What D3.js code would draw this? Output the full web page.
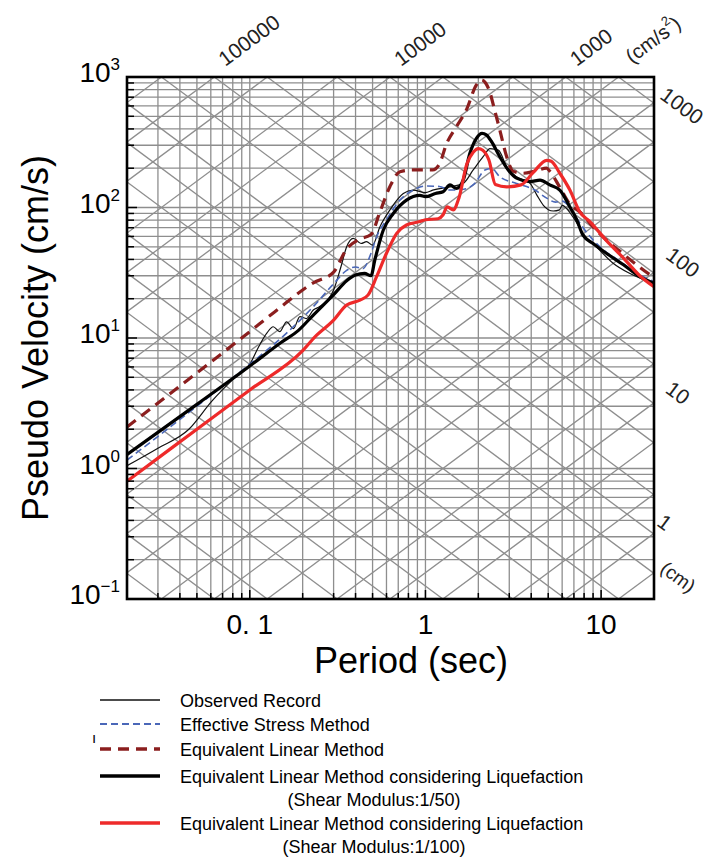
<!DOCTYPE html>
<html>
<head>
<meta charset="utf-8">
<script src="https://cdn.jsdelivr.net/npm/d3@7"></script>
<style>
  body { margin: 0; background: #fff; }
  svg { font-family: Arial, "Liberation Sans", Helvetica, sans-serif; }
</style>
</head>
<body>
<svg id="chart" width="710" height="861"></svg>
<script>
// period (sec), pseudo velocity (cm/s)
var observed = [[0.02,1.05],[0.03,1.43],[0.045,2.0],[0.061,3.3],[0.08,4.8],[0.1,6.3],[0.112,8.5],[0.125,10.9],[0.136,12.2],[0.148,11.2],[0.162,13.3],[0.177,11.8],[0.193,14.6],[0.21,14.1],[0.23,16.4],[0.25,17.4],[0.30,23.3],[0.33,35],[0.356,50],[0.388,58],[0.43,53],[0.462,54.7],[0.50,51.5],[0.55,71],[0.628,96],[0.748,128],[0.85,136],[1.0,130],[1.1,136],[1.38,144],[1.64,153],[1.87,194],[2.13,245],[2.33,283],[2.6,275],[2.9,206],[3.3,172],[3.94,153],[4.3,125],[4.69,104],[5.34,94],[5.8,96],[6.0,104],[6.9,85],[7.9,63],[9.4,50],[11.7,37.4],[14.5,31.3],[20,26.2]];
var effective = [[0.02,1.16],[0.05,3.0],[0.1,6.3],[0.162,10.9],[0.23,17.4],[0.30,26],[0.356,33],[0.40,35],[0.44,34],[0.49,44.6],[0.527,59.6],[0.6,80.6],[0.716,114],[0.853,136],[1.0,146],[1.2,145],[1.38,136],[1.65,138],[1.91,153],[2.18,194],[2.38,199],[2.65,172],[3.3,153],[4.2,136],[4.9,118],[5.5,110],[6.0,112],[6.5,104],[7.2,84],[8.3,64],[10,49],[12.5,39.5],[16.6,30.4],[20,27]];
var eqLinear = [[0.02,2.08],[0.1,11.2],[0.139,15.9],[0.23,26.5],[0.30,32],[0.356,48],[0.42,57],[0.49,62],[0.55,92],[0.628,145],[0.716,188],[0.85,194],[1.1,194],[1.2,215],[1.32,309],[1.5,416],[1.71,560],[1.95,870],[2.09,950],[2.2,900],[2.33,760],[2.45,590],[2.65,393],[2.9,245],[3.15,190],[3.6,183],[4.2,190],[4.9,200],[5.1,190],[5.8,144],[6.6,107],[7.6,92],[9.0,71],[10.7,56.4],[12.7,46.6],[15.5,37.4],[18.5,31.3],[20,29.5]];
var eqLiq50 = [[0.02,1.28],[0.05,3.1],[0.1,6.1],[0.15,9.2],[0.19,11.5],[0.23,15],[0.30,21.5],[0.356,27.5],[0.40,30.4],[0.45,31.3],[0.49,30],[0.515,39.6],[0.575,67],[0.656,90],[0.78,114],[0.93,124],[1.0,121],[1.14,128],[1.26,132],[1.38,149],[1.5,140],[1.64,162],[1.79,260],[1.95,339],[2.1,370],[2.22,360],[2.38,319],[2.65,245],[2.96,194],[3.3,168],[3.94,158],[4.49,162],[5.1,149],[5.82,136],[6.64,101],[7.25,81],[7.9,61],[9.0,53],[10.7,44.6],[13.4,36.4],[16.6,29.5],[20,26.2]];
var eqLiq100 = [[0.02,0.8],[0.05,2.0],[0.1,4.0],[0.2,8.0],[0.235,10.2],[0.3,13.7],[0.356,17.9],[0.424,19.5],[0.472,21.4],[0.527,29.5],[0.6,44.6],[0.686,63.4],[0.78,73.4],[0.93,78],[1.0,80.6],[1.18,82],[1.26,88],[1.33,101],[1.44,96],[1.55,118],[1.72,215],[1.87,265],[2.0,283],[2.12,275],[2.3,230],[2.5,150],[2.9,144],[3.5,149],[4.1,185],[4.9,230],[5.2,226],[5.82,183],[6.64,136],[7.57,92],[8.63,78],[10.7,56],[13.4,41],[16.6,30],[20,24.7]];

var periodTicks = [0.1, 1, 10];
var periodLabels = ["0. 1", "1", "10"];
var velocityTicks = [0.1, 1, 10, 100, 1000];
var velocityExp = ["\u22121", "0", "1", "2", "3"];
var accelLabels = [100000, 10000, 1000];     // cm/s2
var dispLabels = [1000, 100, 10, 1];         // cm
var diagSteps = [1, 2, 5];

var svg = d3.select("#chart");
var pLeft = 127, pTop = 77, pRight = 654, pBottom = 599;
var x = d3.scaleLog().domain([0.02, 20]).range([pLeft, pRight]);
var y = d3.scaleLog().domain([0.1, 1000]).range([pBottom, pTop]);
var angle = Math.atan((y(1) - y(10)) / (x(10) - x(1))) * 180 / Math.PI;

svg.append("rect").attr("width", 710).attr("height", 861).attr("fill", "#fff");
svg.append("clipPath").attr("id", "plot")
  .append("rect").attr("x", pLeft).attr("y", pTop).attr("width", pRight - pLeft).attr("height", pBottom - pTop);

var grid = svg.append("g").attr("clip-path", "url(#plot)")
  .attr("stroke", "#8e8e8e").attr("stroke-width", 1.3).attr("fill", "none");

function minors(lo, hi) {
  var out = [];
  for (var k = Math.floor(Math.log10(lo)); k <= Math.ceil(Math.log10(hi)); k++)
    for (var m = 1; m <= 9; m++) {
      var v = m * Math.pow(10, k);
      if (v >= lo * 0.999 && v <= hi * 1.001) out.push(v);
    }
  return out;
}
var xMinor = minors(0.02, 20), yMinor = minors(0.1, 1000);

grid.selectAll(".vx").data(xMinor).join("line")
  .attr("x1", d => x(d)).attr("x2", d => x(d)).attr("y1", pTop).attr("y2", pBottom);
grid.selectAll(".hy").data(yMinor).join("line")
  .attr("y1", d => y(d)).attr("y2", d => y(d)).attr("x1", pLeft).attr("x2", pRight);

// tripartite diagonals: acceleration (V = A T / 2pi) and displacement (V = 2pi D / T)
var accel = [], disp = [];
for (var k = -3; k <= 8; k++) diagSteps.forEach(m => accel.push(m * Math.pow(10, k)));
for (var k = -5; k <= 5; k++) diagSteps.forEach(m => disp.push(m * Math.pow(10, k)));
var T0 = 0.02, T1 = 20;
grid.selectAll(".ac").data(accel).join("line")
  .attr("x1", x(T0)).attr("x2", x(T1))
  .attr("y1", d => y(d * T0 / (2 * Math.PI))).attr("y2", d => y(d * T1 / (2 * Math.PI)));
grid.selectAll(".dp").data(disp).join("line")
  .attr("x1", x(T0)).attr("x2", x(T1))
  .attr("y1", d => y(2 * Math.PI * d / T0)).attr("y2", d => y(2 * Math.PI * d / T1));

// curves
var line = d3.line().x(d => x(d[0])).y(d => y(d[1])).curve(d3.curveMonotoneX);
var series = [
  { data: observed, color: "#111", width: 1.2, dash: null },
  { data: effective, color: "#4a67b8", width: 1.6, dash: "7,4" },
  { data: eqLinear, color: "#8b1e1e", width: 3.2, dash: "11,7" },
  { data: eqLiq50, color: "#000", width: 3.2, dash: null },
  { data: eqLiq100, color: "#ee2a2a", width: 3.2, dash: null }
];
var curves = svg.append("g").attr("clip-path", "url(#plot)");
series.forEach(s => {
  curves.append("path").datum(s.data).attr("d", line)
    .attr("fill", "none").attr("stroke", s.color).attr("stroke-width", s.width)
    .attr("stroke-dasharray", s.dash).attr("stroke-linejoin", "round");
});

// frame and ticks
svg.append("rect").attr("x", pLeft).attr("y", pTop).attr("width", pRight - pLeft).attr("height", pBottom - pTop)
  .attr("fill", "none").attr("stroke", "#000").attr("stroke-width", 2.6);
var isDecade = v => Math.abs(Math.log10(v) - Math.round(Math.log10(v))) < 1e-6;
svg.append("g").selectAll("line").data(yMinor).join("line")
  .attr("x1", pLeft).attr("x2", d => pLeft + (isDecade(d) ? 10 : 7))
  .attr("y1", d => y(d)).attr("y2", d => y(d)).attr("stroke", "#000").attr("stroke-width", 1.5);
svg.append("g").selectAll("line").data(xMinor).join("line")
  .attr("y1", pBottom).attr("y2", d => pBottom - (isDecade(d) ? 9 : 6))
  .attr("x1", d => x(d)).attr("x2", d => x(d)).attr("stroke", "#000").attr("stroke-width", 1.5);

// tick labels
svg.append("g").selectAll("text").data(periodTicks).join("text")
  .attr("x", d => x(d)).attr("y", 634).attr("text-anchor", "middle")
  .attr("font-size", 28).text((d, i) => periodLabels[i]);
var yl = svg.append("g").selectAll("text").data(velocityTicks).join("text")
  .attr("x", 120).attr("y", d => y(d) + 5).attr("text-anchor", "end").attr("font-size", 28);
yl.append("tspan").text("10");
yl.append("tspan").attr("font-size", 17).attr("dy", -12).text((d, i) => velocityExp[i]);

// axis titles
svg.append("text").attr("transform", "translate(48," + ((pTop + pBottom) / 2) + ") rotate(-90)")
  .attr("text-anchor", "middle").attr("font-size", 36).text("Pseudo Velocity (cm/s)");
svg.append("text").attr("x", 411).attr("y", 673).attr("text-anchor", "middle")
  .attr("font-size", 36).text("Period (sec)");

// acceleration labels above the top edge
accelLabels.forEach(a => {
  var x0 = x(2 * Math.PI * 1000 / a);
  svg.append("text").attr("transform", "translate(" + (x0 + 11) + ",67) rotate(" + (-angle) + ")")
    .attr("font-size", 21).attr("fill", "#222").text(a);
});
var cms2 = svg.append("text").attr("transform", "translate(632,64) rotate(" + (-angle) + ")")
  .attr("font-size", 20).attr("fill", "#222");
cms2.append("tspan").text("(cm/s");
cms2.append("tspan").attr("font-size", 13).attr("dy", -10).text("2");
cms2.append("tspan").attr("dy", 10).text(")");

// displacement labels right of the frame
var dispOffset = [[28, -37], [29, -11], [24, -11], [11, -12]];
dispLabels.forEach((dcm, i) => {
  var yd = y(2 * Math.PI * dcm / 20);
  svg.append("text")
    .attr("transform", "translate(" + (pRight + dispOffset[i][0]) + "," + (yd + dispOffset[i][1]) + ") rotate(" + angle + ")")
    .attr("text-anchor", "middle").attr("dominant-baseline", "central")
    .attr("font-size", 21).attr("fill", "#222").text(dcm);
});
svg.append("text").attr("transform", "translate(678,577) rotate(" + angle + ")")
  .attr("text-anchor", "middle").attr("dominant-baseline", "central")
  .attr("font-size", 19).attr("fill", "#222").text("(cm)");

// legend
var legend = [
  { s: series[0], ly: 700, text: ["Observed Record"] },
  { s: series[1], ly: 724, text: ["Effective Stress Method"] },
  { s: series[2], ly: 749, text: ["Equivalent Linear Method"] },
  { s: series[3], ly: 776, text: ["Equivalent Linear Method considering Liquefaction", "(Shear Modulus:1/50)"] },
  { s: series[4], ly: 823, text: ["Equivalent Linear Method considering Liquefaction", "(Shear Modulus:1/100)"] }
];
var lg = svg.append("g");
legend.forEach(l => {
  lg.append("line").attr("x1", 100).attr("x2", 160).attr("y1", l.ly).attr("y2", l.ly)
    .attr("stroke", l.s.color).attr("stroke-width", l.s.width + 0.4).attr("stroke-dasharray", l.s.dash);
  lg.append("text").attr("x", 180).attr("y", l.ly + 7).attr("font-size", 18).text(l.text[0]);
  if (l.text[1]) lg.append("text").attr("x", 374).attr("y", l.ly + 30).attr("text-anchor", "middle")
    .attr("font-size", 18).text(l.text[1]);
});
svg.append("text").attr("x", 92).attr("y", 743).attr("font-size", 15).text("\u0131");
</script>
</body>
</html>
